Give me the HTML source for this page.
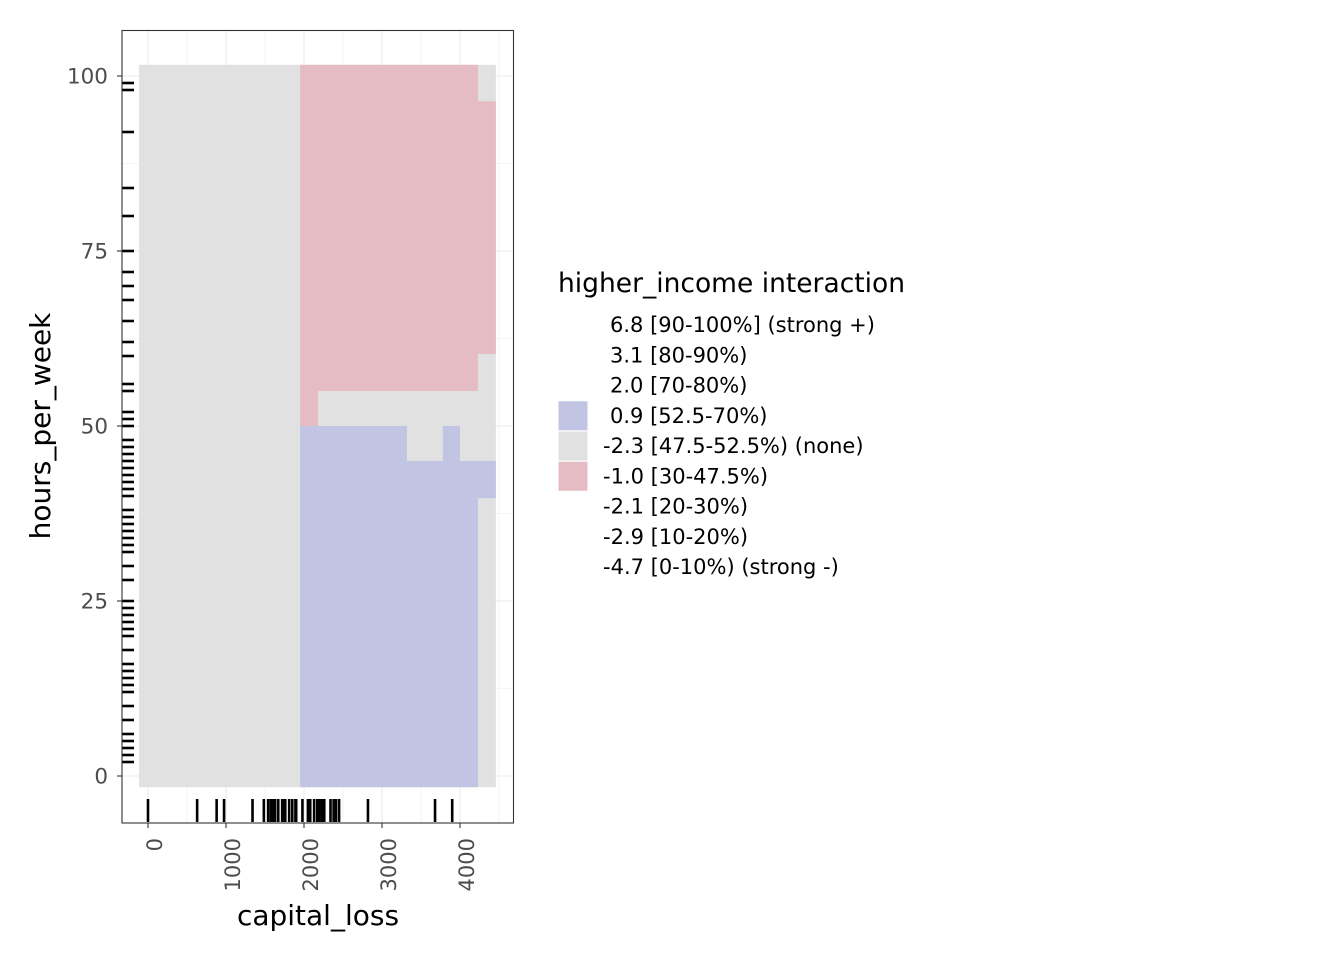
<!DOCTYPE html>
<html><head><meta charset="utf-8"><style>body{margin:0;background:#fff}svg{display:block;font-family:"DejaVu Sans","Liberation Sans",sans-serif}</style></head>
<body>
<svg id="chart" width="1344" height="960" viewBox="0 0 1344 960" xmlns="http://www.w3.org/2000/svg">
<g id="grid"></g>
<g id="tiles"></g>
<g id="rugs"></g>
<rect x="122" y="30.5" width="391.5" height="792.5" fill="none" stroke="#333" stroke-width="1.1"/>
<g id="axes"></g>
<text x="318" y="925" font-size="28" text-anchor="middle" fill="#000">capital_loss</text>
<text transform="translate(50,426) rotate(-90)" font-size="28" text-anchor="middle" fill="#000">hours_per_week</text>
<g id="legend">
<text x="558" y="292" font-size="26.5" fill="#000">higher_income interaction</text>
</g>
</svg>
<script>
const xTicks = [0, 1000, 2000, 3000, 4000];
const yTicks = [0, 25, 50, 75, 100];
const tileX0 = [-115, 1950, 1950, 1950, 4230, 1950, 1950, 3780, 1950];
const tileX1 = [1950, 4460, 4230, 2180, 4460, 3320, 4460, 4000, 4230];
const tileY0 = [-1.6, -1.6, 55, 50, 60.3, 45, 39.7, 45, -1.6];
const tileY1 = [101.6, 101.6, 101.6, 55, 96.4, 50, 45, 50, 39.7];
const tileFill = ["#e1e1e1", "#e1e1e1", "#e5bcc3", "#e5bcc3", "#e5bcc3", "#c1c5e3", "#c1c5e3", "#c1c5e3", "#c1c5e3"];
const rugX = [0, 630, 880, 975, 1340, 1485, 1540, 1575, 1600, 1630, 1670, 1720, 1740, 1760, 1810, 1850, 1890, 1900, 1980, 2050, 2080, 2130, 2170, 2200, 2230, 2260, 2340, 2380, 2410, 2450, 2820, 3680, 3900];
const rugY = [99, 98, 92, 84, 80, 75, 72, 70, 68, 65, 62, 60, 56, 55, 52, 51, 50, 48, 47, 46, 45, 44, 43, 42, 41, 40, 38, 37, 36, 35, 34, 33, 32, 30, 28, 25, 24, 23, 22, 21, 20, 18, 16, 15, 14, 13, 12, 10, 8, 6, 5, 4, 3, 2];
const legendLabels = [" 6.8 [90-100%] (strong +)", " 3.1 [80-90%)", " 2.0 [70-80%)", " 0.9 [52.5-70%)", "-2.3 [47.5-52.5%) (none)", "-1.0 [30-47.5%)", "-2.1 [20-30%)", "-2.9 [10-20%)", "-4.7 [0-10%) (strong -)"];
const legendFill = ["none", "none", "none", "#c1c5e3", "#e1e1e1", "#e5bcc3", "none", "none", "none"];

const NS = "http://www.w3.org/2000/svg";
const sx = v => 148 + v * 0.078;
const sy = v => 776 - v * 7;
function mk(tag, attrs, parent) {
  const e = document.createElementNS(NS, tag);
  for (const k in attrs) e.setAttribute(k, attrs[k]);
  parent.appendChild(e);
  return e;
}
const grid = document.getElementById('grid'), tiles = document.getElementById('tiles'),
      rugs = document.getElementById('rugs'), axes = document.getElementById('axes'),
      legend = document.getElementById('legend');
mk('rect', {x:122, y:30.5, width:391.5, height:792.5, fill:'#fff'}, grid);
for (let v = 0; v <= 4500; v += 500) {
  const l = mk('line', {x1:sx(v), x2:sx(v), y1:30.5, y2:823, stroke:'#ebebeb', 'stroke-width': v % 1000 ? 0.6 : 1.1}, grid);
  
  
}
for (let v = -12.5; v <= 100; v += 12.5) {
  if (sy(v) > 823) continue;
  const l = mk('line', {x1:122, x2:513.5, y1:sy(v), y2:sy(v), stroke:'#ebebeb', 'stroke-width': (v % 25) ? 0.6 : 1.1}, grid);
  
  
}
tileX0.forEach((x0, i) => {
  const r = mk('rect', {x:sx(x0), y:sy(tileY1[i]), width:sx(tileX1[i]) - sx(x0), height:sy(tileY0[i]) - sy(tileY1[i]), fill:tileFill[i]}, tiles);
  
  
});
rugX.forEach(v => {
  const l = mk('line', {x1:sx(v), x2:sx(v), y1:799, y2:822, stroke:'#000', 'stroke-width':2.6}, rugs);
  
  
});
rugY.forEach(v => {
  const l = mk('line', {x1:122.5, x2:134, y1:sy(v), y2:sy(v), stroke:'#000', 'stroke-width':2.6}, rugs);
  
  
});
xTicks.forEach(v => {
  const t = mk('line', {x1:sx(v), x2:sx(v), y1:823, y2:828, stroke:'#333', 'stroke-width':1.1}, axes);
  
  
  const tx = mk('text', {transform:`translate(${sx(v) + 14},838) rotate(-90)`, 'font-size':21, fill:'#4d4d4d', 'text-anchor':'end'}, axes);
  tx.textContent = String(v);
  
  
});
yTicks.forEach(v => {
  const t = mk('line', {x1:117, x2:122, y1:sy(v), y2:sy(v), stroke:'#333', 'stroke-width':1.1}, axes);
  
  
  const tx = mk('text', {x:108, y:sy(v) + 7.5, 'font-size':21.5, fill:'#4d4d4d', 'text-anchor':'end'}, axes);
  tx.textContent = String(v);
  
  
});
legendLabels.forEach((lab, i) => {
  const y = 310 + i * 30.25;
  if (legendFill[i] !== 'none') {
    const r = mk('rect', {x:558, y:y, width:30, height:30, fill:legendFill[i], stroke:'#fff', 'stroke-width':1}, legend);
    
    
  }
  const t = mk('text', {x:lab.startsWith(' ') ? 610 : 603, y:y + 22, 'font-size':21, fill:'#000'}, legend);
  t.textContent = lab.trim();
  
  
});
</script>
</body></html>
